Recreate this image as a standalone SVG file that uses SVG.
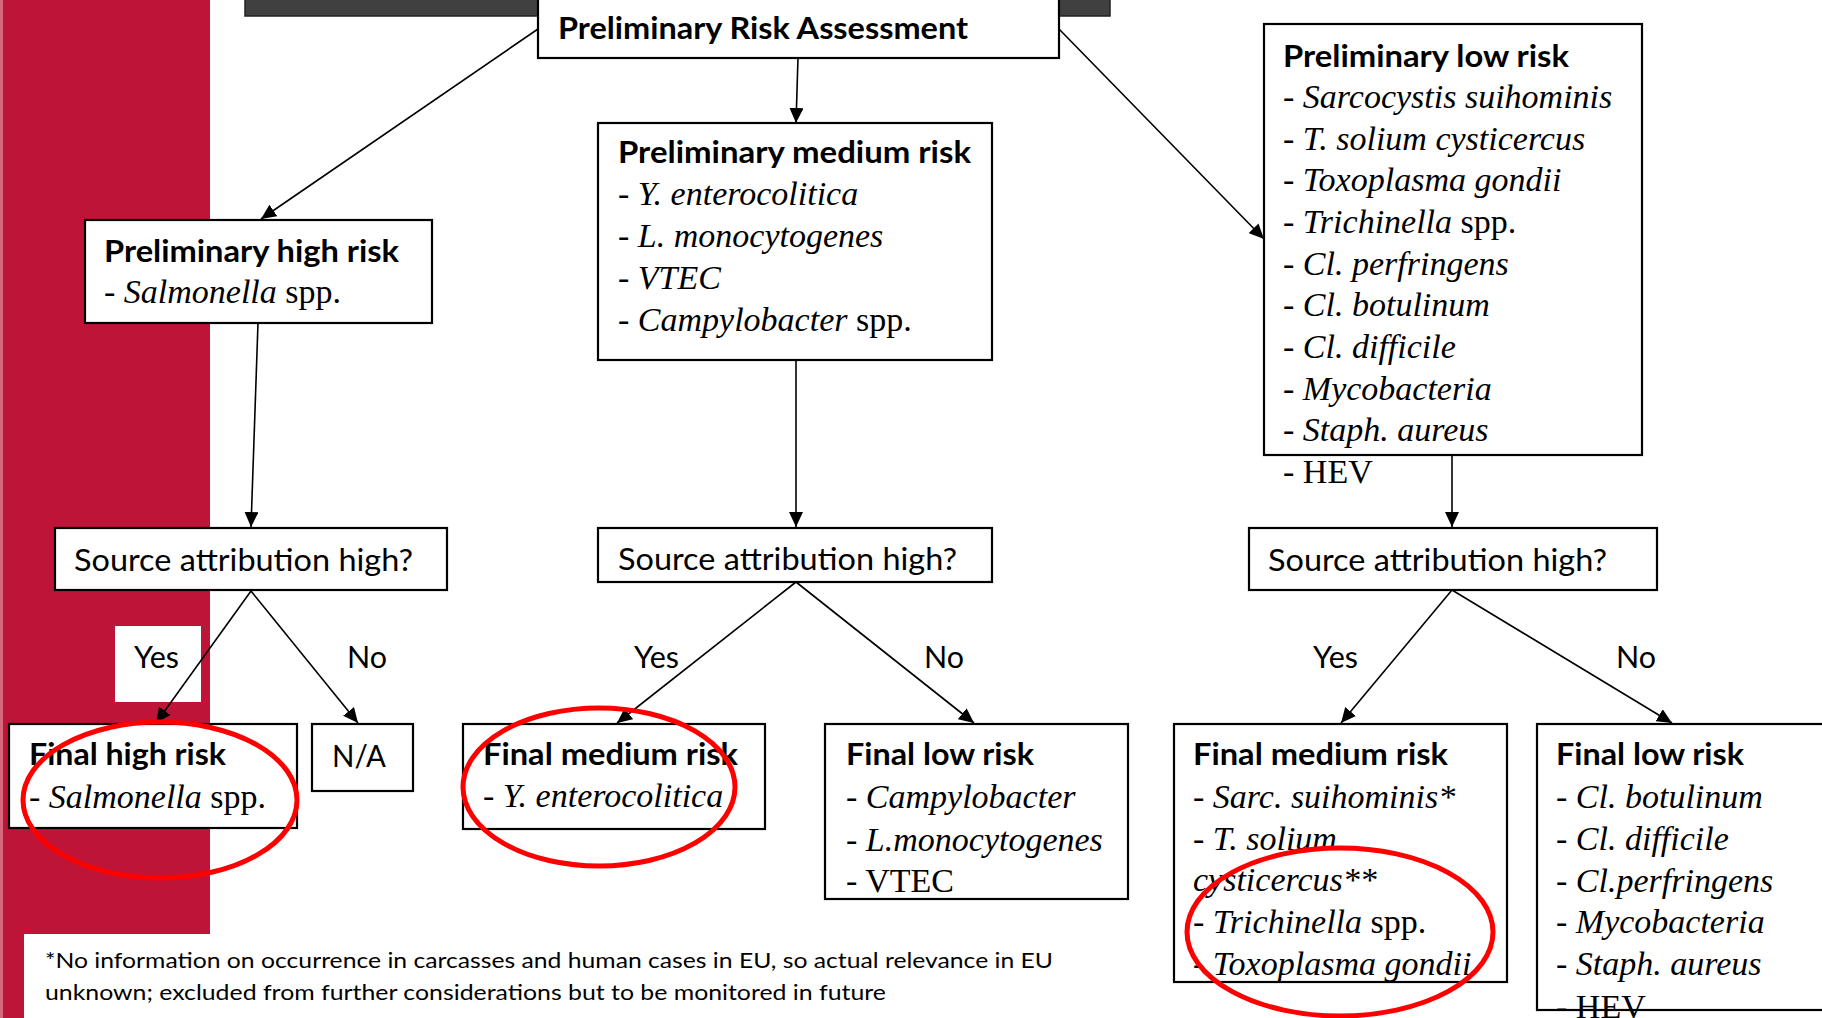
<svg xmlns="http://www.w3.org/2000/svg" width="1822" height="1018" viewBox="0 0 1822 1018">
<style>
.box{fill:#fff;stroke:#000;stroke-width:2.2}
.hd{font-family:Lato,"Liberation Sans",sans-serif;font-weight:700;font-size:31px;fill:#000}
.rg{font-family:Lato,"Liberation Sans",sans-serif;font-size:31px;fill:#000}
.tm{font-family:"Liberation Serif","Times New Roman",serif;font-size:34px;fill:#000}
.it{font-style:italic}
.fn{font-family:Lato,"Liberation Sans",sans-serif;font-size:21.5px;fill:#000}
.con{stroke:#000;stroke-width:1.6;fill:none;marker-end:url(#ah)}
.ring{fill:none;stroke:#FF0000;stroke-width:5}
</style>
<defs>
<marker id="ah" markerUnits="userSpaceOnUse" markerWidth="16" markerHeight="14" refX="15" refY="7" orient="auto">
<path d="M0,0 L15,7 L0,14 z" fill="#000"/>
</marker>
</defs>
<rect x="0" y="0" width="1822" height="1018" fill="#fff"/>
<g id="background">
<rect x="0" y="0" width="210" height="934" fill="#BE1438"/>
<rect x="0" y="934" width="24" height="84" fill="#BE1438"/>
<rect x="0" y="0" width="3" height="1018" fill="#D6687C"/>
<rect x="245" y="-2" width="865" height="18" fill="#404040" stroke="#222" stroke-width="1.5"/>
</g>
<g id="footnote">
<text class="fn" x="45" y="968" textLength="1008" lengthAdjust="spacingAndGlyphs">*No information on occurrence in carcasses and human cases in EU, so actual relevance in EU</text>
<text class="fn" x="45" y="1000" textLength="841" lengthAdjust="spacingAndGlyphs">unknown; excluded from further considerations but to be monitored in future</text>
</g>
<g id="n-pra">
<rect class="box" x="538" y="-3" width="521" height="61"/>
<text class="hd" x="558" y="39" textLength="410" lengthAdjust="spacingAndGlyphs">Preliminary Risk Assessment</text>
</g>
<g id="n-prelim-high">
<rect class="box" x="85" y="220" width="347" height="103"/>
<text class="hd" x="104" y="262" textLength="295" lengthAdjust="spacingAndGlyphs">Preliminary high risk</text>
<text class="tm" x="104" y="303">- <tspan class="it">Salmonella</tspan> spp.</text>
</g>
<g id="n-prelim-medium">
<rect class="box" x="598" y="123" width="394" height="237"/>
<text class="hd" x="618" y="163" textLength="353" lengthAdjust="spacingAndGlyphs">Preliminary medium risk</text>
<text class="tm" x="618" y="205">- <tspan class="it">Y. enterocolitica</tspan></text>
<text class="tm" x="618" y="247">- <tspan class="it">L. monocytogenes</tspan></text>
<text class="tm" x="618" y="289">- <tspan class="it">VTEC</tspan></text>
<text class="tm" x="618" y="331">- <tspan class="it">Campylobacter</tspan> spp.</text>
</g>
<g id="n-prelim-low">
<rect class="box" x="1264" y="24" width="378" height="431"/>
<text class="hd" x="1283" y="67" textLength="286" lengthAdjust="spacingAndGlyphs">Preliminary low risk</text>
<text class="tm" x="1283" y="108">- <tspan class="it">Sarcocystis suihominis</tspan></text>
<text class="tm" x="1283" y="150">- <tspan class="it">T. solium cysticercus</tspan></text>
<text class="tm" x="1283" y="191">- <tspan class="it">Toxoplasma gondii</tspan></text>
<text class="tm" x="1283" y="233">- <tspan class="it">Trichinella</tspan> spp.</text>
<text class="tm" x="1283" y="275">- <tspan class="it">Cl. perfringens</tspan></text>
<text class="tm" x="1283" y="316">- <tspan class="it">Cl. botulinum</tspan></text>
<text class="tm" x="1283" y="358">- <tspan class="it">Cl. difficile</tspan></text>
<text class="tm" x="1283" y="400">- <tspan class="it">Mycobacteria</tspan></text>
<text class="tm" x="1283" y="441">- <tspan class="it">Staph. aureus</tspan></text>
<text class="tm" x="1283" y="483">- HEV</text>
</g>
<g id="n-sa-left">
<rect class="box" x="55" y="528" width="392" height="62"/>
<text class="rg" x="74" y="571" textLength="339" lengthAdjust="spacingAndGlyphs">Source attribution high?</text>
</g>
<g id="n-sa-mid">
<rect class="box" x="598" y="528" width="394" height="54"/>
<text class="rg" x="618" y="570" textLength="339" lengthAdjust="spacingAndGlyphs">Source attribution high?</text>
</g>
<g id="n-sa-right">
<rect class="box" x="1249" y="528" width="408" height="62"/>
<text class="rg" x="1268" y="571" textLength="339" lengthAdjust="spacingAndGlyphs">Source attribution high?</text>
</g>
<g id="label-yes-left">
<rect x="115" y="626" width="86" height="76" fill="#fff"/>
<text class="rg" x="134" y="668" textLength="45" lengthAdjust="spacingAndGlyphs">Yes</text>
</g>
<g id="labels">
<text class="rg" x="347" y="668" textLength="40" lengthAdjust="spacingAndGlyphs">No</text>
<text class="rg" x="634" y="668" textLength="45" lengthAdjust="spacingAndGlyphs">Yes</text>
<text class="rg" x="924" y="668" textLength="40" lengthAdjust="spacingAndGlyphs">No</text>
<text class="rg" x="1313" y="668" textLength="45" lengthAdjust="spacingAndGlyphs">Yes</text>
<text class="rg" x="1616" y="668" textLength="40" lengthAdjust="spacingAndGlyphs">No</text>
</g>
<g id="n-final-high">
<rect class="box" x="9" y="724" width="288" height="104"/>
<text class="hd" x="29" y="765" textLength="197" lengthAdjust="spacingAndGlyphs">Final high risk</text>
<text class="tm" x="29" y="808">- <tspan class="it">Salmonella</tspan> spp.</text>
</g>
<g id="n-na">
<rect class="box" x="312" y="724" width="101" height="67"/>
<text class="rg" x="332" y="767" textLength="54" lengthAdjust="spacingAndGlyphs">N/A</text>
</g>
<g id="n-final-medium-mid">
<rect class="box" x="463" y="724" width="302" height="105"/>
<text class="hd" x="483" y="765" textLength="255" lengthAdjust="spacingAndGlyphs">Final medium risk</text>
<text class="tm" x="483" y="807">- <tspan class="it">Y. enterocolitica</tspan></text>
</g>
<g id="n-final-low-mid">
<rect class="box" x="825" y="724" width="303" height="175"/>
<text class="hd" x="846" y="765" textLength="188" lengthAdjust="spacingAndGlyphs">Final low risk</text>
<text class="tm" x="846" y="808">- <tspan class="it">Campylobacter</tspan></text>
<text class="tm" x="846" y="851">- <tspan class="it">L.monocytogenes</tspan></text>
<text class="tm" x="846" y="892">- VTEC</text>
</g>
<g id="n-final-medium-right">
<rect class="box" x="1174" y="724" width="333" height="258"/>
<text class="hd" x="1193" y="765" textLength="255" lengthAdjust="spacingAndGlyphs">Final medium risk</text>
<text class="tm" x="1193" y="808">- <tspan class="it">Sarc. suihominis*</tspan></text>
<text class="tm" x="1193" y="850">- <tspan class="it">T. solium</tspan></text>
<text class="tm it" x="1193" y="891">cysticercus**</text>
<text class="tm" x="1193" y="933">- <tspan class="it">Trichinella</tspan> spp.</text>
<text class="tm" x="1193" y="975">- <tspan class="it">Toxoplasma gondii</tspan></text>
</g>
<g id="n-final-low-right">
<rect class="box" x="1537" y="724" width="300" height="286"/>
<text class="hd" x="1556" y="765" textLength="188" lengthAdjust="spacingAndGlyphs">Final low risk</text>
<text class="tm" x="1556" y="808">- <tspan class="it">Cl. botulinum</tspan></text>
<text class="tm" x="1556" y="850">- <tspan class="it">Cl. difficile</tspan></text>
<text class="tm" x="1556" y="892">- <tspan class="it">Cl.perfringens</tspan></text>
<text class="tm" x="1556" y="933">- <tspan class="it">Mycobacteria</tspan></text>
<text class="tm" x="1556" y="975">- <tspan class="it">Staph. aureus</tspan></text>
<text class="tm" x="1556" y="1018">- HEV</text>
</g>
<g id="connectors">
<line class="con" x1="538" y1="29" x2="261" y2="219"/>
<line class="con" x1="798" y1="58" x2="796" y2="123"/>
<line class="con" x1="1059" y1="29" x2="1264" y2="239"/>
<line class="con" x1="258" y1="323" x2="251" y2="527"/>
<line class="con" x1="796" y1="360" x2="796" y2="527"/>
<line class="con" x1="1452" y1="455" x2="1452" y2="527"/>
<line class="con" x1="251" y1="591" x2="156" y2="723"/>
<line class="con" x1="251" y1="591" x2="358" y2="723"/>
<line class="con" x1="796" y1="582" x2="617" y2="723"/>
<line class="con" x1="796" y1="582" x2="974" y2="723"/>
<line class="con" x1="1452" y1="590" x2="1341" y2="723"/>
<line class="con" x1="1452" y1="590" x2="1672" y2="723"/>
</g>
<g id="highlights">
<ellipse class="ring" cx="160" cy="800" rx="137" ry="78"/>
<ellipse class="ring" cx="599" cy="787" rx="136" ry="79"/>
<ellipse class="ring" cx="1340" cy="932" rx="153" ry="84"/>
</g>
</svg>
